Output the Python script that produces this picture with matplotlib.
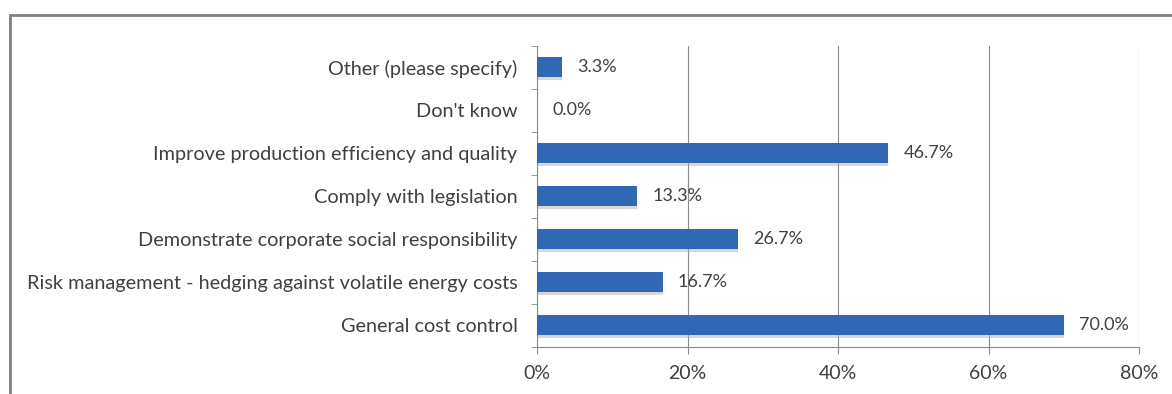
import matplotlib.pyplot as plt
from matplotlib.patches import Rectangle
from matplotlib.ticker import FixedLocator, PercentFormatter

categories = [
    "General cost control",
    "Risk management - hedging against volatile energy costs",
    "Demonstrate corporate social responsibility",
    "Comply with legislation",
    "Improve production efficiency and quality",
    "Don't know",
    "Other (please specify)",
]
values = [70.0, 16.7, 26.7, 13.3, 46.7, 0.0, 3.3]
xticks = [0, 20, 40, 60, 80]

plt.rcParams['font.family'] = ['Lato', 'DejaVu Sans']
text_color = '#404040'
line_color = '#8a8a8a'
bar_color = '#3168b6'

fig = plt.figure(figsize=(11.72, 3.94), dpi=100)
ax = fig.add_axes([537 / 1172, 1 - 346.5 / 394, (1139 - 537) / 1172, (346.5 - 45.5) / 394])

# chart border (cropped at right and bottom like the source)
fig.patches.append(Rectangle((10 / 1172, -0.2), 1.2, 0.2 + 1 - 15 / 394,
                             transform=fig.transFigure, fill=False,
                             edgecolor='#7f7f7f', linewidth=2))

ypos = list(range(len(categories)))
# soft shadow under bars
ax.barh([y - 0.06 for y in ypos], values, height=0.47, color='#b0b0b0', alpha=0.5, zorder=2)
ax.barh(ypos, values, height=0.45, color=bar_color, zorder=3)

for y, v in zip(ypos, values):
    ax.annotate(f"{v:.1f}%", (v, y), xytext=(11, 0), textcoords='offset points',
                va='center', ha='left', fontsize=13, color=text_color)

ax.set_xlim(0, 80)
ax.set_ylim(-0.5, len(categories) - 0.5)
ax.xaxis.set_major_locator(FixedLocator(xticks))
ax.xaxis.set_major_formatter(PercentFormatter(decimals=0))
ax.set_yticks(ypos)
ax.set_yticklabels(categories)
ax.yaxis.set_minor_locator(FixedLocator([y - 0.5 for y in range(len(categories) + 1)]))

ax.tick_params(axis='y', which='major', length=0, pad=14, labelsize=14.3, labelcolor=text_color)
ax.tick_params(axis='y', which='minor', length=4, color=line_color, direction='out')
ax.tick_params(axis='x', length=5, color=line_color, pad=8, labelsize=14, labelcolor=text_color)

ax.grid(axis='x', color=line_color, linewidth=0.8, zorder=0)
ax.set_axisbelow(True)
for side in ['top', 'right']:
    ax.spines[side].set_visible(False)
for side in ['left', 'bottom']:
    ax.spines[side].set_color(line_color)
    ax.spines[side].set_linewidth(0.8)

fig.savefig('out.png', dpi=100)
